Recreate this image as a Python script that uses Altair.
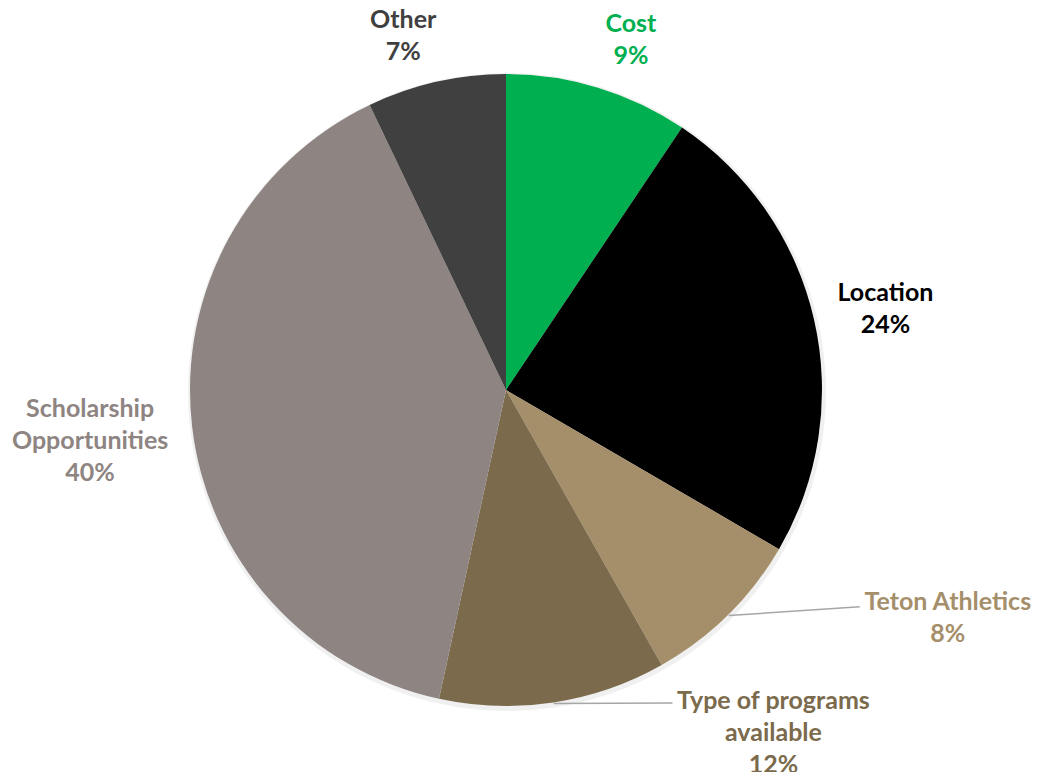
import math
import altair as alt
import pandas as pd

# ---- data ----
categories = ["Cost", "Location", "Teton Athletics", "Type of programs available",
              "Scholarship Opportunities", "Other"]
shares = [9.4, 24.0, 8.4, 11.6, 39.5, 7.1]
label_text = ["Cost\n9%", "Location\n24%", "Teton Athletics\n8%",
              "Type of programs\navailable\n12%", "Scholarship\nOpportunities\n40%", "Other\n7%"]

# ---- styling / layout ----
colors = ["#00B050", "#000000", "#A58F6A", "#7B6B4C", "#8E8482", "#404040"]
CX, CY, R = 498, 382, 316
LH = 32
label_dist = [372, 388, 497, 435, 419, 369]           # px from centre
label_nudge = [2.7, 0.9, -18.1, -29.3, -0.3, -3.4]    # deg from slice mid-angle
leader = {"Teton Athletics": (-88, -11), "Type of programs available": (-101, -30)}

total = sum(shares)
rows, lines = [], []
cum = 0
for i, (c, s) in enumerate(zip(categories, shares)):
    mid = (cum + s / 2) / total * 360
    cum += s
    a = math.radians(mid + label_nudge[i])
    lx = CX + label_dist[i] * math.sin(a)
    ly = CY - label_dist[i] * math.cos(a)
    n = label_text[i].count("\n") + 1
    rows.append({"cat": c, "share": s, "order": i, "label": label_text[i],
                 "lx": lx, "ly": ly - (n - 1) * LH / 2})
    if c in leader:
        m = math.radians(mid)
        lines.append({"cat": c,
                      "x1": CX + (R + 1) * math.sin(m), "y1": CY - (R + 1) * math.cos(m),
                      "x2": lx + leader[c][0], "y2": ly + leader[c][1]})

df = pd.DataFrame(rows)
ldf = pd.DataFrame(lines)

color = alt.Color("cat:N", scale=alt.Scale(domain=categories, range=colors), legend=None)

shadow = alt.Chart(df).mark_arc(outerRadius=R + 3, color="#000000", opacity=0.06).encode(
    theta=alt.Theta("share:Q", stack=True),
    order=alt.Order("order:Q"),
    x=alt.value(CX + 1), y=alt.value(CY + 2),
)
pie = alt.Chart(df).mark_arc(outerRadius=R).encode(
    theta=alt.Theta("share:Q", stack=True),
    order=alt.Order("order:Q"),
    color=color,
    x=alt.value(CX), y=alt.value(CY),
)
rules = alt.Chart(ldf).mark_rule(color="#A6A6A6", strokeWidth=1.5).encode(
    x=alt.X("x1:Q", scale=None), y=alt.Y("y1:Q", scale=None),
    x2="x2:Q", y2="y2:Q",
)
labels = alt.Chart(df).mark_text(
    font="Lato", fontWeight="bold", fontSize=25, lineHeight=LH,
    lineBreak="\n", align="center", baseline="middle",
).encode(
    x=alt.X("lx:Q", scale=None), y=alt.Y("ly:Q", scale=None),
    text="label:N", color=color,
)

chart = alt.layer(shadow, pie, rules, labels).properties(
    width=1023, height=764, padding=0, autosize="none",
).configure_view(strokeWidth=0)

chart.save("out.html", embed_options={"renderer": "svg", "actions": False})
